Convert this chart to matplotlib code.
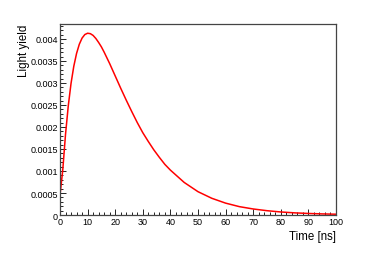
import matplotlib
matplotlib.use("Agg")
import matplotlib.pyplot as plt
from matplotlib.ticker import MultipleLocator, FixedFormatter, FixedLocator

plt.rcParams['font.family'] = ['Liberation Sans', 'DejaVu Sans']

# values
time_ns = [0, 1, 2, 3, 4, 5, 6, 7, 8, 9, 10, 11, 12, 13, 14, 15, 16, 17, 18, 19, 20,
           22, 24, 26, 28, 30, 32, 34, 36, 38, 40,
           45, 50, 55, 60, 65, 70, 75, 80, 85, 90, 95, 100]
light_yield = [0.00045, 0.00102, 0.00183, 0.00248, 0.00299, 0.00338, 0.00367, 0.00388,
               0.00402, 0.00410, 0.00413, 0.00412, 0.00408, 0.00401, 0.00392, 0.00382,
               0.00370, 0.00357, 0.00344, 0.00330, 0.00316,
               0.00288, 0.00261, 0.00235, 0.00210, 0.00187, 0.00167, 0.00148, 0.00131,
               0.00115, 0.00102,
               0.00074, 0.00053, 0.00038, 0.00027, 0.00019, 0.000137, 0.000098, 0.000069,
               0.000049, 0.000035, 0.000025, 0.000018]

y_ticks = [0, 0.0005, 0.001, 0.0015, 0.002, 0.0025, 0.003, 0.0035, 0.004]
y_labels = ["0", "0.0005", "0.001", "0.0015", "0.002", "0.0025", "0.003", "0.0035", "0.004"]

fig = plt.figure(figsize=(3.74, 2.55), dpi=100)
ax = fig.add_axes([0.1604, 0.1529, 0.738, 0.7491])

ax.plot(time_ns, light_yield, color='red', lw=1.1)

ax.set_xlim(0, 100)
ax.set_ylim(0, 0.00434)

ax.xaxis.set_major_locator(MultipleLocator(10))
ax.xaxis.set_minor_locator(MultipleLocator(2))
ax.yaxis.set_major_locator(FixedLocator(y_ticks))
ax.yaxis.set_major_formatter(FixedFormatter(y_labels))
ax.yaxis.set_minor_locator(MultipleLocator(0.0001))

ax.tick_params(which='both', direction='in', top=False, right=False,
               labelsize=6.5, colors='black', width=0.6)
ax.tick_params(which='major', length=4.5, pad=1.5)
ax.tick_params(which='minor', length=2.2)

for s in ax.spines.values():
    s.set_color('#444444')
    s.set_linewidth(0.9)

ax.set_xlabel("Time [ns]", fontsize=8.3, loc='right', labelpad=3)
ax.set_ylabel("Light yield", fontsize=8.3, loc='top', labelpad=0)

fig.savefig("out.png", dpi=100)
